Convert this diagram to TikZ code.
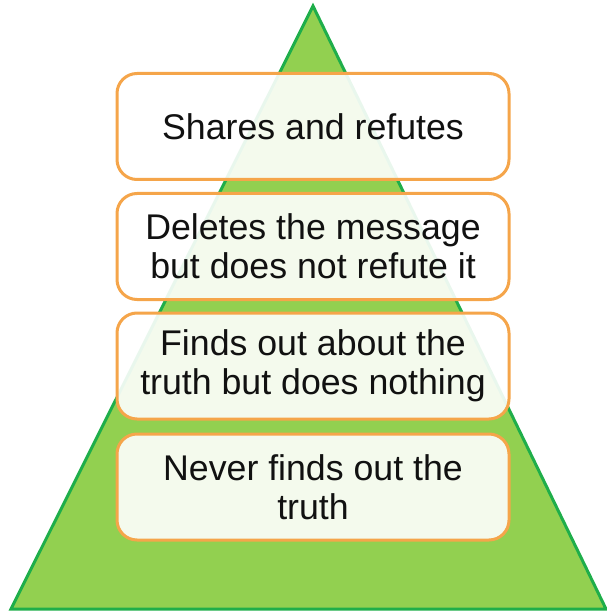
\documentclass[tikz,border=0pt]{standalone}
\usepackage{fontspec}
\setmainfont{Liberation Sans}
\definecolor{trifill}{HTML}{92D050}
\definecolor{triline}{HTML}{1FAE4A}
\definecolor{boxline}{HTML}{F5A54A}
\definecolor{txt}{HTML}{111111}
\begin{document}
\begin{tikzpicture}[x=1pt,y=-1pt,
  tier/.style={draw=boxline, line width=3pt, rounded corners=20pt, fill=white, fill opacity=0.9, text opacity=1,
    minimum width=392pt, minimum height=106pt, align=center, text=txt,
    font=\fontsize{35.7}{38.7}\selectfont, inner sep=0pt}]
\useasboundingbox (0,0) rectangle (606,612);
\coordinate (apex) at (313,6);
\coordinate (bl) at (11,609);
\coordinate (br) at (606,609);
\filldraw[fill=trifill, draw=triline, line width=3pt, line join=miter] (apex) -- (br) -- (bl) -- cycle;
\node[tier] (t1) at (313,126.5) {Shares and refutes};
\node[tier] (t2) at (313,246.5) {Deletes the message\\but does not refute it};
\node[tier] (t3) at (313,366) {Finds out about the\\truth but does nothing};
\node[tier] (t4) at (313,487) {Never finds out the\\truth};
\end{tikzpicture}
\end{document}
